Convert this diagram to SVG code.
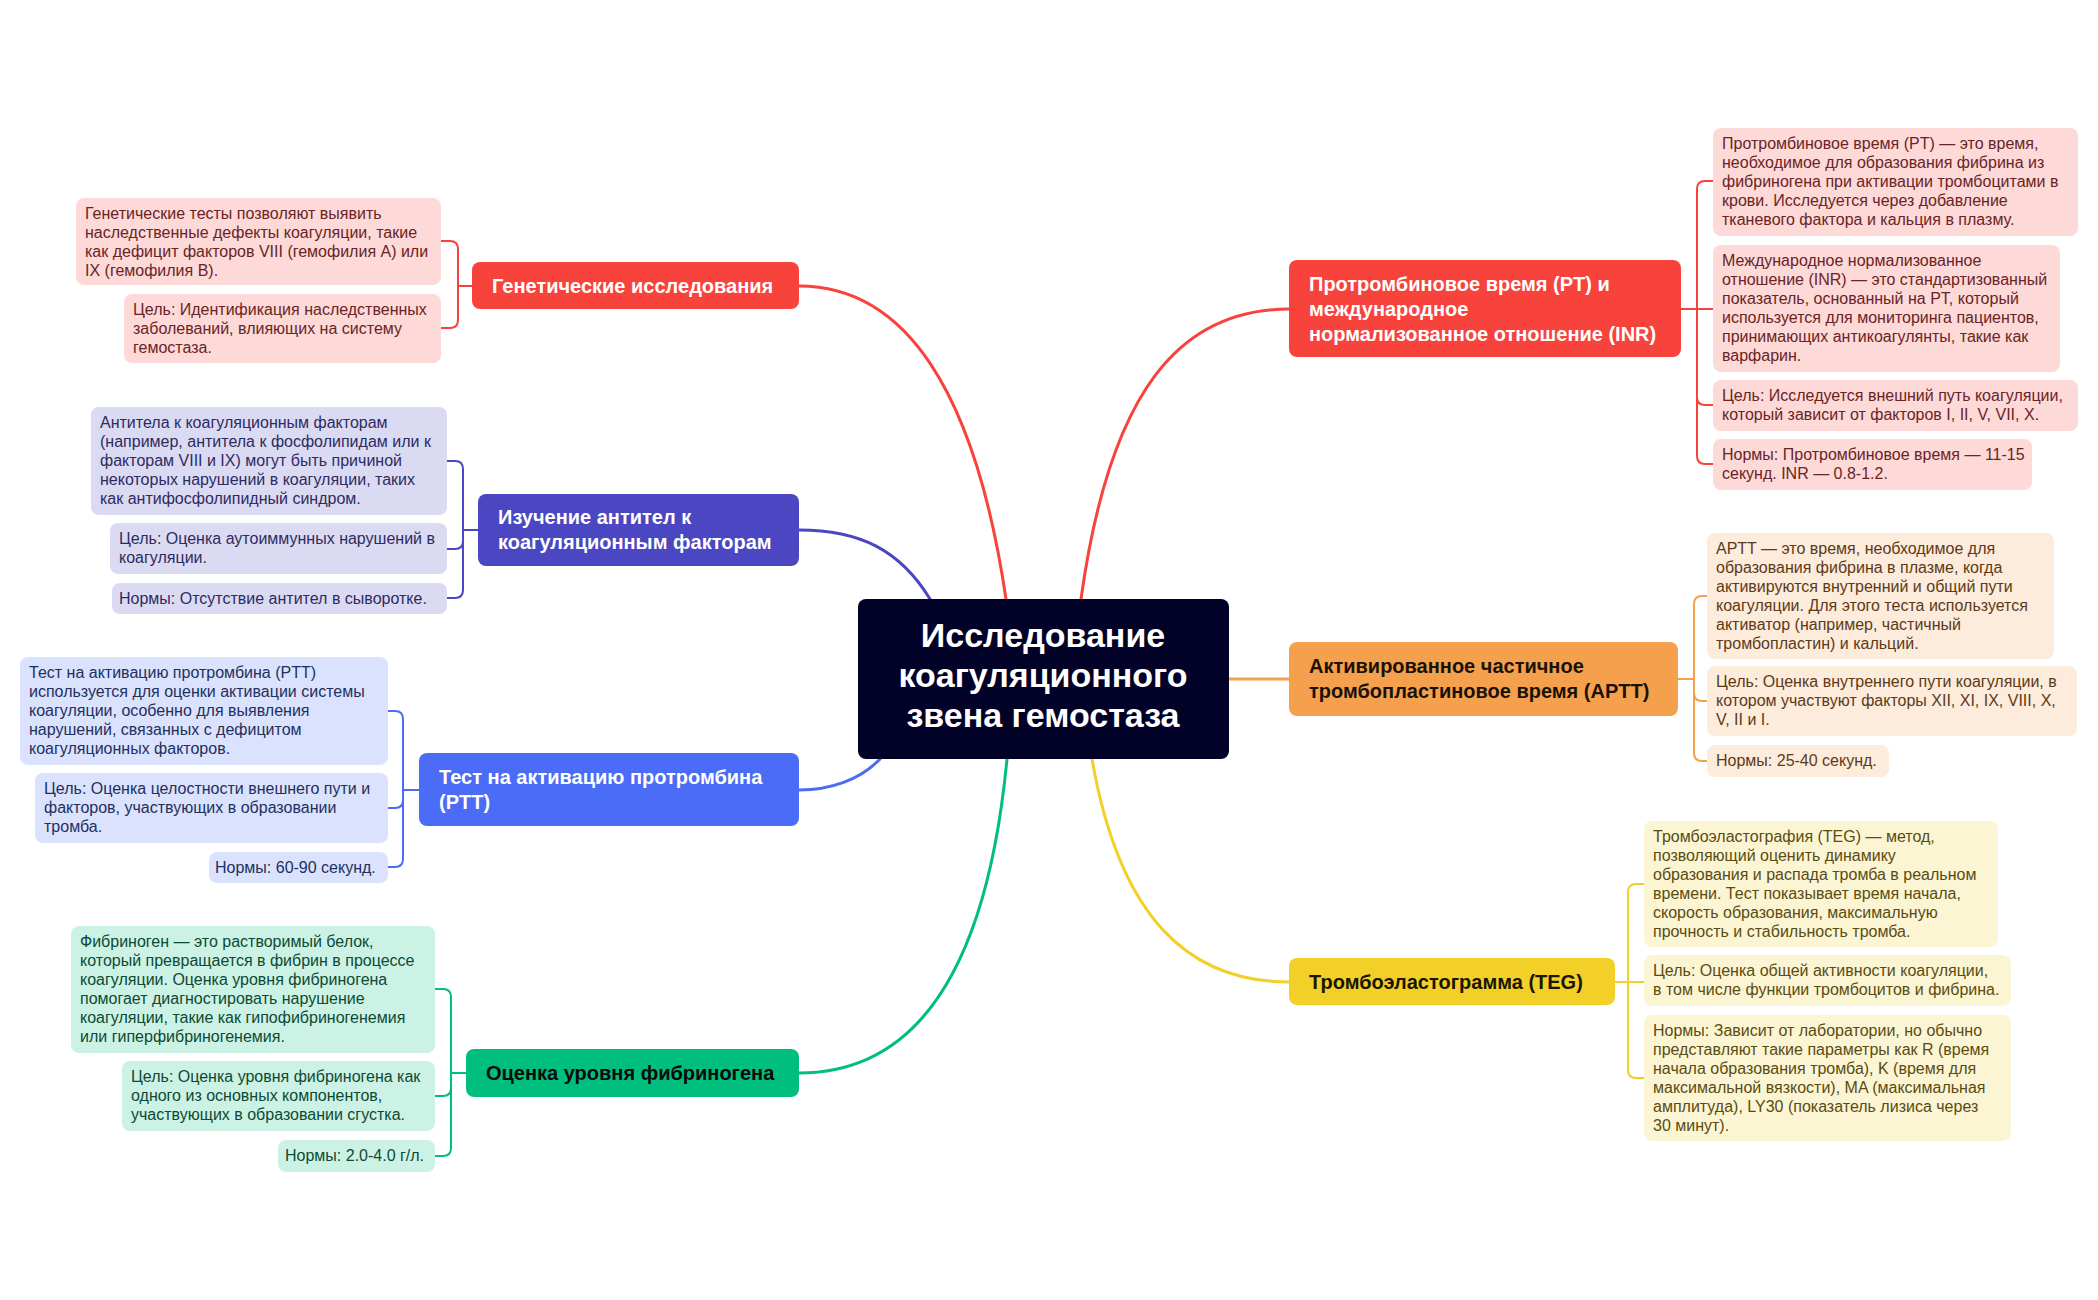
<svg xmlns="http://www.w3.org/2000/svg" width="2098" height="1300" viewBox="0 0 2098 1300">
<style>
.leaf{font-family:"Liberation Sans","Noto Sans",sans-serif;font-size:16px}
.main{font-family:"Liberation Sans","Noto Sans",sans-serif;font-size:20px;font-weight:bold}
.center{font-family:"Liberation Sans","Noto Sans",sans-serif;font-size:34px;font-weight:bold;fill:#ffffff}
.c{fill:none;stroke-width:3;stroke-linecap:round}
.b{fill:none;stroke-width:2}
.red .l{fill:#fdd9d8}.red text.leaf{fill:#6a2424}
.pur .l{fill:#dbdaf3}.pur text.leaf{fill:#2e2b5e}
.blu .l{fill:#dbe2fd}.blu text.leaf{fill:#22305e}
.grn .l{fill:#ccf2e5}.grn text.leaf{fill:#0c4a33}
.org .l{fill:#fdebdb}.org text.leaf{fill:#5c3a17}
.yel .l{fill:#fcf5d4}.yel text.leaf{fill:#5a4c10}
</style>
<rect width="2098" height="1300" fill="#ffffff"/>
<g id="connectors">
<path class="c" stroke="#f8423c" d="M1006,599 C975,390 905,286 799,286"/>
<path class="c" stroke="#4b46c1" d="M930,599 C900,550 860,530 799,530"/>
<path class="c" stroke="#4b6cf6" d="M880,759 C860,780 830,790 799,790"/>
<path class="c" stroke="#00be7e" d="M1007,759 C985,990 905,1073 799,1073"/>
<path class="c" stroke="#f8423c" d="M1081,599 C1110,390 1180,309 1289,309"/>
<path class="c" stroke="#f5a04c" d="M1229,679 H1289"/>
<path class="c" stroke="#f2d027" d="M1092,759 C1120,920 1190,982 1289,982"/>
<g stroke="#f8423c">
<path class="b" d="M472,286 H458 M458,286 V249 Q458,241 450,241 H441 M458,286 V320 Q458,328 450,328 H441"/>
</g>
<g stroke="#4b46c1">
<path class="b" d="M478,530 H463 M463,530 V469 Q463,461 455,461 H447 M463,530 V541 Q463,549 455,549 H447 M463,530 V590 Q463,598 455,598 H447"/>
</g>
<g stroke="#4b6cf6">
<path class="b" d="M419,790 H403 M403,790 V719 Q403,711 395,711 H388 M403,790 V800 Q403,808 395,808 H388 M403,790 V859 Q403,867 395,867 H388"/>
</g>
<g stroke="#00be7e">
<path class="b" d="M466,1073 H451 M451,1073 V997 Q451,989 443,989 H435 M451,1073 V1088 Q451,1096 443,1096 H435 M451,1073 V1148 Q451,1156 443,1156 H435"/>
</g>
<g stroke="#f8423c">
<path class="b" d="M1681,309 H1713 M1697,309 V189 Q1697,181 1705,181 H1713 M1697,309 V397 Q1697,405 1705,405 H1713 M1697,309 V456 Q1697,464 1705,464 H1713"/>
</g>
<g stroke="#f5a04c">
<path class="b" d="M1678,679 H1694 M1694,679 V604 Q1694,596 1702,596 H1707 M1694,679 V693 Q1694,701 1702,701 H1707 M1694,679 V753 Q1694,761 1702,761 H1707"/>
</g>
<g stroke="#f2d027">
<path class="b" d="M1615,982 H1644 M1628,982 V892 Q1628,884 1636,884 H1644 M1628,982 V1070 Q1628,1078 1636,1078 H1644"/>
</g>
</g>

<g id="center">
<rect x="858" y="599" width="371" height="160" rx="8" fill="#020228"/>
<text class="center" text-anchor="middle"><tspan x="1043" y="647">Исследование</tspan><tspan x="1043" y="687">коагуляционного</tspan><tspan x="1043" y="727">звена гемостаза</tspan></text>
</g>

<g id="genetics" class="red">
<rect x="472" y="262" width="327" height="47" rx="8" fill="#f8423c"/>
<text class="main" fill="#ffffff" x="492" y="293">Генетические исследования</text>
</g>
<g id="genetics-1" class="red">
<rect class="l" x="76" y="198" width="365" height="87" rx="8"/>
<text class="leaf"><tspan x="85" y="219">Генетические тесты позволяют выявить</tspan><tspan x="85" y="238">наследственные дефекты коагуляции, такие</tspan><tspan x="85" y="257">как дефицит факторов VIII (гемофилия А) или</tspan><tspan x="85" y="276">IX (гемофилия В).</tspan></text>
</g>
<g id="genetics-2" class="red">
<rect class="l" x="124" y="294" width="317" height="69" rx="8"/>
<text class="leaf"><tspan x="133" y="315">Цель: Идентификация наследственных</tspan><tspan x="133" y="334">заболеваний, влияющих на систему</tspan><tspan x="133" y="353">гемостаза.</tspan></text>
</g>

<g id="antibodies" class="pur">
<rect x="478" y="494" width="321" height="72" rx="8" fill="#4b46c1"/>
<text class="main" fill="#ffffff"><tspan x="498" y="524">Изучение антител к</tspan><tspan x="498" y="549">коагуляционным факторам</tspan></text>
</g>
<g id="antibodies-1" class="pur">
<rect class="l" x="91" y="407" width="356" height="108" rx="8"/>
<text class="leaf"><tspan x="100" y="428">Антитела к коагуляционным факторам</tspan><tspan x="100" y="447">(например, антитела к фосфолипидам или к</tspan><tspan x="100" y="466">факторам VIII и IX) могут быть причиной</tspan><tspan x="100" y="485">некоторых нарушений в коагуляции, таких</tspan><tspan x="100" y="504">как антифосфолипидный синдром.</tspan></text>
</g>
<g id="antibodies-2" class="pur">
<rect class="l" x="110" y="523" width="337" height="51" rx="8"/>
<text class="leaf"><tspan x="119" y="544">Цель: Оценка аутоиммунных нарушений в</tspan><tspan x="119" y="563">коагуляции.</tspan></text>
</g>
<g id="antibodies-3" class="pur">
<rect class="l" x="112" y="583" width="335" height="31" rx="8"/>
<text class="leaf" x="119" y="604">Нормы: Отсутствие антител в сыворотке.</text>
</g>

<g id="ptt" class="blu">
<rect x="419" y="753" width="380" height="73" rx="8" fill="#4b6cf6"/>
<text class="main" fill="#ffffff"><tspan x="439" y="784">Тест на активацию протромбина</tspan><tspan x="439" y="809">(PTT)</tspan></text>
</g>
<g id="ptt-1" class="blu">
<rect class="l" x="20" y="657" width="368" height="108" rx="8"/>
<text class="leaf"><tspan x="29" y="678">Тест на активацию протромбина (PTT)</tspan><tspan x="29" y="697">используется для оценки активации системы</tspan><tspan x="29" y="716">коагуляции, особенно для выявления</tspan><tspan x="29" y="735">нарушений, связанных с дефицитом</tspan><tspan x="29" y="754">коагуляционных факторов.</tspan></text>
</g>
<g id="ptt-2" class="blu">
<rect class="l" x="35" y="773" width="353" height="70" rx="8"/>
<text class="leaf"><tspan x="44" y="794">Цель: Оценка целостности внешнего пути и</tspan><tspan x="44" y="813">факторов, участвующих в образовании</tspan><tspan x="44" y="832">тромба.</tspan></text>
</g>
<g id="ptt-3" class="blu">
<rect class="l" x="209" y="852" width="179" height="31" rx="8"/>
<text class="leaf" x="215" y="873">Нормы: 60-90 секунд.</text>
</g>

<g id="fibrinogen" class="grn">
<rect x="466" y="1049" width="333" height="48" rx="8" fill="#00be7e"/>
<text class="main" fill="#0a0a0a" x="486" y="1080">Оценка уровня фибриногена</text>
</g>
<g id="fibrinogen-1" class="grn">
<rect class="l" x="71" y="926" width="364" height="127" rx="8"/>
<text class="leaf"><tspan x="80" y="947">Фибриноген — это растворимый белок,</tspan><tspan x="80" y="966">который превращается в фибрин в процессе</tspan><tspan x="80" y="985">коагуляции. Оценка уровня фибриногена</tspan><tspan x="80" y="1004">помогает диагностировать нарушение</tspan><tspan x="80" y="1023">коагуляции, такие как гипофибриногенемия</tspan><tspan x="80" y="1042">или гиперфибриногенемия.</tspan></text>
</g>
<g id="fibrinogen-2" class="grn">
<rect class="l" x="122" y="1061" width="313" height="70" rx="8"/>
<text class="leaf"><tspan x="131" y="1082">Цель: Оценка уровня фибриногена как</tspan><tspan x="131" y="1101">одного из основных компонентов,</tspan><tspan x="131" y="1120">участвующих в образовании сгустка.</tspan></text>
</g>
<g id="fibrinogen-3" class="grn">
<rect class="l" x="278" y="1140" width="157" height="32" rx="8"/>
<text class="leaf" x="285" y="1161">Нормы: 2.0-4.0 г/л.</text>
</g>

<g id="pt-inr" class="red">
<rect x="1289" y="260" width="392" height="97" rx="8" fill="#f8423c"/>
<text class="main" fill="#ffffff"><tspan x="1309" y="291">Протромбиновое время (PT) и</tspan><tspan x="1309" y="316">международное</tspan><tspan x="1309" y="341">нормализованное отношение (INR)</tspan></text>
</g>
<g id="pt-1" class="red">
<rect class="l" x="1713" y="128" width="365" height="108" rx="8"/>
<text class="leaf"><tspan x="1722" y="149">Протромбиновое время (PT) — это время,</tspan><tspan x="1722" y="168">необходимое для образования фибрина из</tspan><tspan x="1722" y="187">фибриногена при активации тромбоцитами в</tspan><tspan x="1722" y="206">крови. Исследуется через добавление</tspan><tspan x="1722" y="225">тканевого фактора и кальция в плазму.</tspan></text>
</g>
<g id="pt-2" class="red">
<rect class="l" x="1713" y="245" width="347" height="127" rx="8"/>
<text class="leaf"><tspan x="1722" y="266">Международное нормализованное</tspan><tspan x="1722" y="285">отношение (INR) — это стандартизованный</tspan><tspan x="1722" y="304">показатель, основанный на PT, который</tspan><tspan x="1722" y="323">используется для мониторинга пациентов,</tspan><tspan x="1722" y="342">принимающих антикоагулянты, такие как</tspan><tspan x="1722" y="361">варфарин.</tspan></text>
</g>
<g id="pt-3" class="red">
<rect class="l" x="1713" y="380" width="365" height="51" rx="8"/>
<text class="leaf"><tspan x="1722" y="401">Цель: Исследуется внешний путь коагуляции,</tspan><tspan x="1722" y="420">который зависит от факторов I, II, V, VII, X.</tspan></text>
</g>
<g id="pt-4" class="red">
<rect class="l" x="1713" y="439" width="319" height="51" rx="8"/>
<text class="leaf"><tspan x="1722" y="460">Нормы: Протромбиновое время — 11-15</tspan><tspan x="1722" y="479">секунд. INR — 0.8-1.2.</tspan></text>
</g>

<g id="aptt" class="org">
<rect x="1289" y="642" width="389" height="74" rx="8" fill="#f5a04c"/>
<text class="main" fill="#1a1208"><tspan x="1309" y="673">Активированное частичное</tspan><tspan x="1309" y="698">тромбопластиновое время (APTT)</tspan></text>
</g>
<g id="aptt-1" class="org">
<rect class="l" x="1707" y="533" width="347" height="126" rx="8"/>
<text class="leaf"><tspan x="1716" y="554">APTT — это время, необходимое для</tspan><tspan x="1716" y="573">образования фибрина в плазме, когда</tspan><tspan x="1716" y="592">активируются внутренний и общий пути</tspan><tspan x="1716" y="611">коагуляции. Для этого теста используется</tspan><tspan x="1716" y="630">активатор (например, частичный</tspan><tspan x="1716" y="649">тромбопластин) и кальций.</tspan></text>
</g>
<g id="aptt-2" class="org">
<rect class="l" x="1707" y="666" width="370" height="70" rx="8"/>
<text class="leaf"><tspan x="1716" y="687">Цель: Оценка внутреннего пути коагуляции, в</tspan><tspan x="1716" y="706">котором участвуют факторы XII, XI, IX, VIII, X,</tspan><tspan x="1716" y="725">V, II и I.</tspan></text>
</g>
<g id="aptt-3" class="org">
<rect class="l" x="1707" y="745" width="182" height="32" rx="8"/>
<text class="leaf" x="1716" y="766">Нормы: 25-40 секунд.</text>
</g>

<g id="teg" class="yel">
<rect x="1289" y="958" width="326" height="47" rx="8" fill="#f2d027"/>
<text class="main" fill="#1a1604" x="1309" y="989">Тромбоэластограмма (TEG)</text>
</g>
<g id="teg-1" class="yel">
<rect class="l" x="1644" y="821" width="354" height="126" rx="8"/>
<text class="leaf"><tspan x="1653" y="842">Тромбоэластография (TEG) — метод,</tspan><tspan x="1653" y="861">позволяющий оценить динамику</tspan><tspan x="1653" y="880">образования и распада тромба в реальном</tspan><tspan x="1653" y="899">времени. Тест показывает время начала,</tspan><tspan x="1653" y="918">скорость образования, максимальную</tspan><tspan x="1653" y="937">прочность и стабильность тромба.</tspan></text>
</g>
<g id="teg-2" class="yel">
<rect class="l" x="1644" y="955" width="367" height="51" rx="8"/>
<text class="leaf"><tspan x="1653" y="976">Цель: Оценка общей активности коагуляции,</tspan><tspan x="1653" y="995">в том числе функции тромбоцитов и фибрина.</tspan></text>
</g>
<g id="teg-3" class="yel">
<rect class="l" x="1644" y="1015" width="367" height="126" rx="8"/>
<text class="leaf"><tspan x="1653" y="1036">Нормы: Зависит от лаборатории, но обычно</tspan><tspan x="1653" y="1055">представляют такие параметры как R (время</tspan><tspan x="1653" y="1074">начала образования тромба), K (время для</tspan><tspan x="1653" y="1093">максимальной вязкости), MA (максимальная</tspan><tspan x="1653" y="1112">амплитуда), LY30 (показатель лизиса через</tspan><tspan x="1653" y="1131">30 минут).</tspan></text>
</g>
</svg>
